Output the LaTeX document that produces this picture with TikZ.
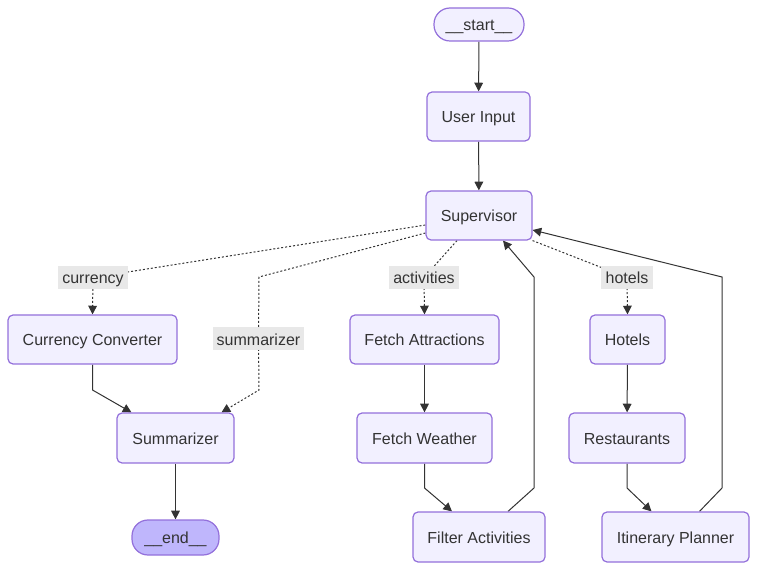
\documentclass[tikz,border=0pt]{standalone}
\usepackage{fontspec}
\setmainfont{Liberation Sans}
\usetikzlibrary{arrows.meta}
\newdimen\px \px=0.75pt
\definecolor{nodefill}{HTML}{F2F0FF}
\definecolor{nodestroke}{HTML}{9370DB}
\definecolor{endfill}{HTML}{BFB6FC}
\definecolor{edgecol}{HTML}{333333}
\definecolor{lblfill}{HTML}{E8E8E8}
\definecolor{txt}{HTML}{333333}
\pgfdeclarelayer{bg}\pgfsetlayers{bg,main}
\begin{document}
\begin{tikzpicture}[x=0.75pt,y=-0.75pt,
  box/.style={draw=nodestroke, fill=nodefill, line width=1.2\px, rounded corners=5\px,
    text=txt, font=\fontsize{12}{14}\selectfont, inner sep=0pt, text height=11.6pt, text depth=2.4pt},
  term/.style={box, rounded corners=16\px},
  lbl/.style={fill=lblfill, text=txt, font=\fontsize{12}{14}\selectfont, inner sep=0pt,
    minimum height=23\px, text height=11.8pt, text depth=2.4pt},
  flow/.style={draw=edgecol, line width=1\px, -{Triangle[length=6.5pt,width=6.5pt]}},
  cond/.style={flow, dash pattern=on 2\px off 2\px},
]
\useasboundingbox (0,0) rectangle (757,570);
% nodes
\node[term, minimum width=90\px, minimum height=33\px] (st) at (479,24.5) {\_\_start\_\_};
\node[box, minimum width=103\px, minimum height=49\px] (ui) at (478.5,116.5) {User Input};
\node[box, minimum width=106\px, minimum height=49\px] (sup) at (479,215.5) {Supervisor};
\node[box, minimum width=169\px, minimum height=49\px] (cc) at (92.5,339.5) {Currency Converter};
\node[box, minimum width=149\px, minimum height=49\px] (fa) at (424.5,339.5) {Fetch Attractions};
\node[box, minimum width=75\px, minimum height=49\px] (ho) at (627.5,339.5) {Hotels};
\node[box, minimum width=117\px, minimum height=50\px] (su) at (175.5,438) {Summarizer};
\node[box, minimum width=135\px, minimum height=50\px] (fw) at (424.5,438) {Fetch Weather};
\node[box, minimum width=116\px, minimum height=50\px] (re) at (627,438) {Restaurants};
\node[box, minimum width=132\px, minimum height=50\px] (fi) at (479,537) {Filter Activities};
\node[box, minimum width=147\px, minimum height=50\px] (ip) at (675.5,537) {Itinerary Planner};
\node[term, fill=endfill, minimum width=87\px, minimum height=35\px] (en) at (175.5,537.5) {\_\_end\_\_};
% edge labels
\node[lbl, minimum width=70\px] (lcur) at (93,277.5) {currency};
\node[lbl, minimum width=91\px] (lsum) at (258.5,339) {summarizer};
\node[lbl, minimum width=70\px] (lact) at (424,277.5) {activities};
\node[lbl, minimum width=52\px] (lhot) at (627,277.5) {hotels};
% bend points
\coordinate (k1) at (259,277);
\coordinate (k2) at (259,390);
\coordinate (k3) at (92.5,390);
\coordinate (k4) at (424.5,488);
\coordinate (k5) at (534,488);
\coordinate (k6) at (534,277);
\coordinate (k7) at (627,488);
\coordinate (k8) at (722,488);
\coordinate (k9) at (722,277);
\begin{pgfonlayer}{bg}
\draw[flow] (st) -- (ui);
\draw[flow] (ui) -- (sup);
\draw[cond] ([yshift=-9.5\px]sup.west) -- (lcur.center) -- (cc.north);
\draw[cond] ([yshift=-17.5\px]sup.west) -- (k1) -- (lsum.center) -- (k2) -- ([xshift=46\px]su.north);
\draw[cond] ([xshift=-22\px]sup.south) -- (lact.center) -- (fa.north);
\draw[cond] (sup.south east) -- (lhot.center) -- (ho.north);
\draw[flow] (cc.south) -- (k3) -- ([xshift=-44\px]su.north);
\draw[flow] (su) -- (en);
\draw[flow] (fa) -- (fw);
\draw[flow] (fw.south) -- (k4) -- ([xshift=-27\px]fi.north);
\draw[flow] ([xshift=29\px]fi.north) -- (k5) -- (k6) -- ([xshift=24\px]sup.south);
\draw[flow] (ho) -- (re);
\draw[flow] (re.south) -- (k7) -- ([xshift=-24\px]ip.north);
\draw[flow] ([xshift=24\px]ip.north) -- (k8) -- (k9) -- ([yshift=-14.5\px]sup.east);
\end{pgfonlayer}
\end{tikzpicture}
\end{document}
